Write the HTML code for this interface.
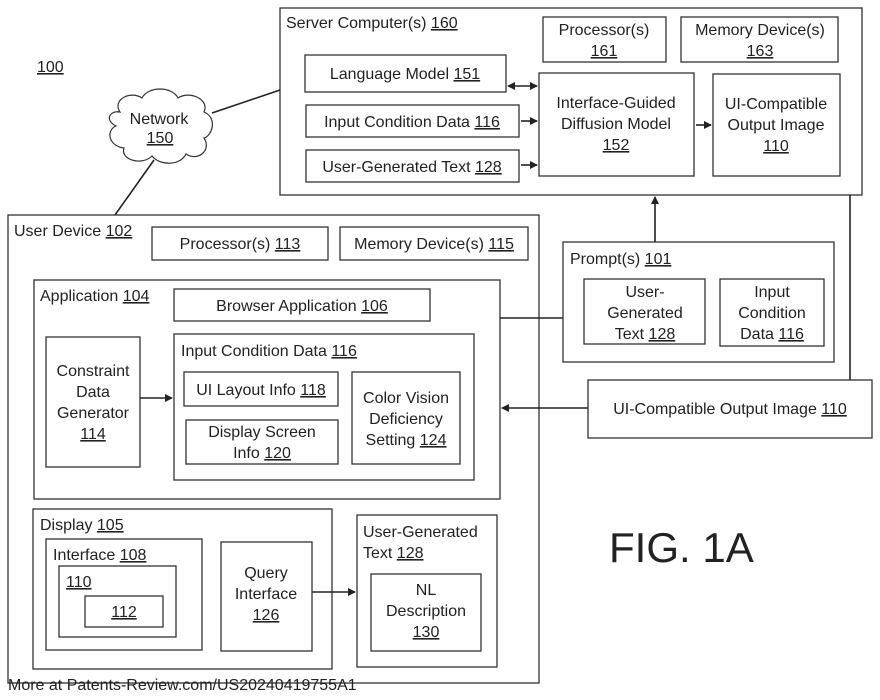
<!DOCTYPE html>
<html><head><meta charset="utf-8"><style>
html,body{margin:0;padding:0;background:#fff;}
svg{display:block;}
text{font-family:"Liberation Sans",Arial,sans-serif;font-size:16px;fill:#222;}
.u{text-decoration:underline;}
rect{fill:#fff;stroke:#333;stroke-width:1.3;}
line,path.l{stroke:#222;stroke-width:1.6;fill:none;}
</style></head><body>
<svg width="880" height="700" viewBox="0 0 880 700" xmlns="http://www.w3.org/2000/svg">
<defs><marker id="a" markerWidth="8" markerHeight="8" refX="7" refY="4" orient="auto-start-reverse" markerUnits="userSpaceOnUse"><path d="M0,0 L8,4 L0,8 z" fill="#222"/></marker></defs>

<text x="37" y="72"><tspan class="u">100</tspan></text>

<!-- Server -->
<rect x="280" y="8" width="582" height="187"/>
<text x="286" y="28">Server Computer(s) <tspan class="u">160</tspan></text>
<rect x="543" y="17" width="123" height="45"/>
<text x="604" y="35" text-anchor="middle">Processor(s)</text>
<text x="604" y="56" text-anchor="middle" class="u">161</text>
<rect x="681" y="17" width="157" height="45"/>
<text x="760" y="35" text-anchor="middle">Memory Device(s)</text>
<text x="760" y="56" text-anchor="middle" class="u">163</text>
<rect x="305" y="55" width="201" height="37"/>
<text x="405" y="79" text-anchor="middle">Language Model <tspan class="u">151</tspan></text>
<rect x="306" y="105" width="213" height="32"/>
<text x="412" y="127" text-anchor="middle">Input Condition Data <tspan class="u">116</tspan></text>
<rect x="306" y="150" width="213" height="32"/>
<text x="412" y="172" text-anchor="middle">User-Generated Text <tspan class="u">128</tspan></text>
<rect x="539" y="73" width="155" height="103"/>
<text x="616" y="108" text-anchor="middle">Interface-Guided</text>
<text x="616" y="129" text-anchor="middle">Diffusion Model</text>
<text x="616" y="150" text-anchor="middle" class="u">152</text>
<rect x="713" y="74" width="127" height="102"/>
<text x="776" y="109" text-anchor="middle">UI-Compatible</text>
<text x="776" y="130" text-anchor="middle">Output Image</text>
<text x="776" y="151" text-anchor="middle" class="u">110</text>
<line x1="508" y1="86" x2="537" y2="86" marker-start="url(#a)" marker-end="url(#a)"/>
<line x1="521" y1="121" x2="537" y2="121" marker-end="url(#a)"/>
<line x1="521" y1="165" x2="537" y2="165" marker-end="url(#a)"/>
<line x1="696" y1="125" x2="711" y2="125" marker-end="url(#a)"/>

<!-- Network -->
<line x1="212" y1="113" x2="280" y2="90"/>
<line x1="154" y1="160" x2="115" y2="215"/>
<path d="M120,112 C112,100 130,90 142,98 C148,86 172,86 178,98 C190,90 210,100 204,112 C218,118 212,136 204,138 C212,150 198,162 186,154 C180,166 160,166 152,156 C142,166 120,160 124,148 C108,146 106,130 116,126 C104,120 110,110 120,112 z" fill="#fff" stroke="#333" stroke-width="1.2"/>
<text x="159" y="124" text-anchor="middle" font-size="15">Network</text>
<text x="160" y="143" text-anchor="middle" class="u" font-size="15">150</text>

<!-- User device -->
<rect x="8" y="215" width="531" height="468"/>
<text x="14" y="236">User Device <tspan class="u">102</tspan></text>
<rect x="152" y="227" width="176" height="33"/>
<text x="240" y="249" text-anchor="middle">Processor(s) <tspan class="u">113</tspan></text>
<rect x="340" y="227" width="188" height="33"/>
<text x="434" y="249" text-anchor="middle">Memory Device(s) <tspan class="u">115</tspan></text>

<rect x="34" y="280" width="466" height="219"/>
<text x="40" y="301">Application <tspan class="u">104</tspan></text>
<rect x="174" y="289" width="256" height="32"/>
<text x="302" y="311" text-anchor="middle">Browser Application <tspan class="u">106</tspan></text>
<rect x="46" y="337" width="94" height="130"/>
<text x="93" y="376" text-anchor="middle">Constraint</text>
<text x="93" y="397" text-anchor="middle">Data</text>
<text x="93" y="418" text-anchor="middle">Generator</text>
<text x="93" y="439" text-anchor="middle" class="u">114</text>
<line x1="140" y1="398" x2="172" y2="398" marker-end="url(#a)"/>
<rect x="174" y="334" width="300" height="146"/>
<text x="181" y="356">Input Condition Data <tspan class="u">116</tspan></text>
<rect x="184" y="372" width="154" height="34"/>
<text x="261" y="395" text-anchor="middle">UI Layout Info <tspan class="u">118</tspan></text>
<rect x="186" y="420" width="152" height="44"/>
<text x="262" y="437" text-anchor="middle">Display Screen</text>
<text x="262" y="458" text-anchor="middle">Info <tspan class="u">120</tspan></text>
<rect x="352" y="372" width="108" height="92"/>
<text x="406" y="403" text-anchor="middle">Color Vision</text>
<text x="406" y="424" text-anchor="middle">Deficiency</text>
<text x="406" y="445" text-anchor="middle">Setting <tspan class="u">124</tspan></text>

<rect x="33" y="509" width="299" height="160"/>
<text x="40" y="530">Display <tspan class="u">105</tspan></text>
<rect x="46" y="539" width="156" height="111"/>
<text x="53" y="560">Interface <tspan class="u">108</tspan></text>
<rect x="59" y="566" width="117" height="71"/>
<text x="66" y="587" class="u">110</text>
<rect x="85" y="596" width="78" height="31"/>
<text x="124" y="617" text-anchor="middle" class="u">112</text>
<rect x="221" y="542" width="91" height="109"/>
<text x="266" y="578" text-anchor="middle">Query</text>
<text x="266" y="599" text-anchor="middle">Interface</text>
<text x="266" y="620" text-anchor="middle" class="u">126</text>
<line x1="312" y1="592" x2="355" y2="592" marker-end="url(#a)"/>
<rect x="357" y="515" width="140" height="152"/>
<text x="363" y="537">User-Generated</text>
<text x="363" y="558">Text <tspan class="u">128</tspan></text>
<rect x="371" y="574" width="110" height="77"/>
<text x="426" y="595" text-anchor="middle">NL</text>
<text x="426" y="616" text-anchor="middle">Description</text>
<text x="426" y="637" text-anchor="middle" class="u">130</text>

<!-- Prompt -->
<line x1="500" y1="318" x2="563" y2="318"/>
<rect x="563" y="242" width="271" height="120"/>
<text x="570" y="264">Prompt(s) <tspan class="u">101</tspan></text>
<rect x="584" y="279" width="121" height="65"/>
<text x="645" y="297" text-anchor="middle">User-</text>
<text x="645" y="318" text-anchor="middle">Generated</text>
<text x="645" y="339" text-anchor="middle">Text <tspan class="u">128</tspan></text>
<rect x="720" y="279" width="104" height="67"/>
<text x="772" y="297" text-anchor="middle">Input</text>
<text x="772" y="318" text-anchor="middle">Condition</text>
<text x="772" y="339" text-anchor="middle">Data <tspan class="u">116</tspan></text>
<line x1="655" y1="242" x2="655" y2="197" marker-end="url(#a)"/>
<line x1="850" y1="195" x2="850" y2="380"/>
<rect x="588" y="380" width="284" height="58"/>
<text x="730" y="414" text-anchor="middle">UI-Compatible Output Image <tspan class="u">110</tspan></text>
<line x1="588" y1="408" x2="502" y2="408" marker-end="url(#a)"/>

<text x="609" y="562" style="font-size:42px">FIG. 1A</text>
<text x="8" y="690" style="font-size:16px" fill="#222">More at Patents-Review.com/US20240419755A1</text>
</svg>
</body></html>
